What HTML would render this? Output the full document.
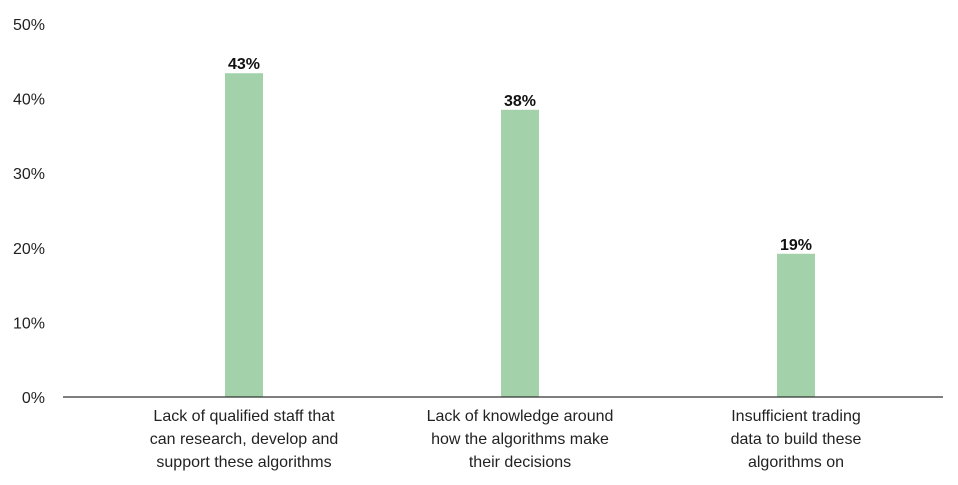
<!DOCTYPE html>
<html><head><meta charset="utf-8"><style>
body{margin:0;background:#fff;}
svg{display:block;font-family:"Liberation Sans",sans-serif;}
</style></head><body>
<svg id="chart" width="958" height="485"></svg>
<script>
const categories=[["Lack of qualified staff that","can research, develop and","support these algorithms"],["Lack of knowledge around","how the algorithms make","their decisions"],["Insufficient trading","data to build these","algorithms on"]];
const values=[43.4,38.5,19.2];
const valueLabels=["43%","38%","19%"];
const ticks=[0,10,20,30,40,50];
const tickLabels=["0%","10%","20%","30%","40%","50%"];
const svg=document.getElementById('chart');
const NS='http://www.w3.org/2000/svg';
const y0=397,pxPer=7.46,x0=106,band=276,barW=38;
const yScale=v=>y0-v*pxPer;
const xCenter=i=>x0+band*(i+0.5);
function mk(t,a){const e=document.createElementNS(NS,t);for(const k in a)e.setAttribute(k,a[k]);svg.appendChild(e);return e;}
ticks.forEach((t,i)=>{
 const e=mk('text',{x:45,y:yScale(t)+6,'text-anchor':'end','font-size':16,fill:'#222'});
 e.textContent=tickLabels[i];
 
 
});
values.forEach((v,i)=>{
 const r=mk('rect',{x:xCenter(i)-barW/2,y:yScale(v),width:barW,height:y0-yScale(v),fill:'#a3d1aa'});
 
 
 const t=mk('text',{x:xCenter(i),y:yScale(v)-4,'text-anchor':'middle','font-size':16,'font-weight':'bold',fill:'#111'});
 t.textContent=valueLabels[i];
 
 
 categories[i].forEach((line,j)=>{
  const c=mk('text',{x:xCenter(i),y:421+j*23,'text-anchor':'middle','font-size':16,fill:'#222'});
  c.textContent=line;
  
  
 });
});
const ax=mk('line',{x1:63,x2:943,y1:y0,y2:y0,stroke:'#333','stroke-width':1.3});


</script>
</body></html>
